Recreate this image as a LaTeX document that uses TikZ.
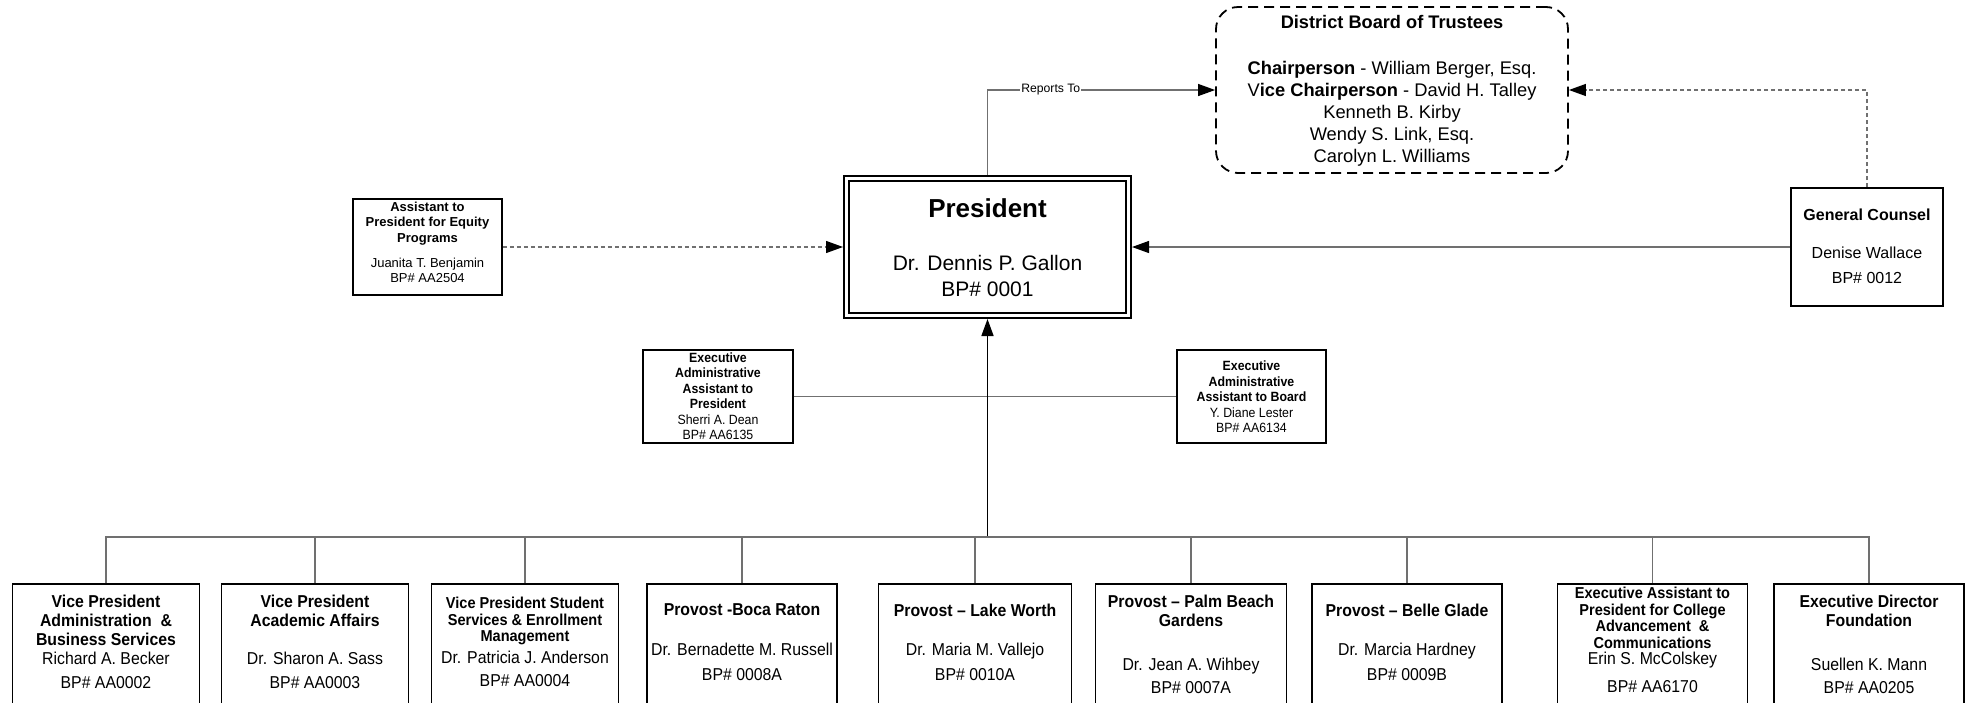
\documentclass[tikz,border=0pt]{standalone}
\usepackage{fontspec}
\setmainfont{Liberation Sans}
\newfontfamily\nf[FakeStretch=0.92]{Liberation Sans}
\usetikzlibrary{arrows.meta}
\definecolor{wirecol}{RGB}{112,112,112}
\newcommand{\myfont}[2]{\fontsize{#1pt}{#2pt}\selectfont}
\begin{document}
\begin{tikzpicture}[x=1pt,y=-1pt,
  box/.style={draw=black,line width=1.8pt,inner sep=0pt,fill=white},
  txt/.style={align=center,inner sep=0pt,text=black},
  wire/.style={draw=wirecol,line width=1.2pt},
  arr/.style={-{Triangle[length=17pt,width=12pt,color=black]}},
  bbox/.style={box,minimum height=176pt},
  btitle/.style={txt,font={\nf\bfseries\myfont{17.2}{19}}},
  bstitle/.style={txt,font={\nf\bfseries\myfont{15.8}{16.5}}},
  bbody/.style={txt,font={\nf\myfont{17.2}{#1}}},
]
\useasboundingbox (0,0) rectangle (1973,702);
\fill[white] (0,0) rectangle (1973,702);
\clip (0,0) rectangle (1973,702);

% boxes
\node[box,dash pattern=on 10pt off 6pt,rounded corners=22pt,minimum width=352pt,minimum height=166pt] (board) at (1392,90) {};
\node[box,double,double distance=3pt,line width=2pt,outer sep=3.5pt,minimum width=282pt,minimum height=137pt] (pres) at (987.5,247) {};
\node[box,minimum width=149pt,minimum height=96pt] (eq) at (427.5,247) {};
\node[box,minimum width=152pt,minimum height=118pt] (gc) at (1867,247) {};
\node[box,minimum width=150pt,minimum height=93pt] (eap) at (718,396.5) {};
\node[box,minimum width=149pt,minimum height=93pt] (eab) at (1251.5,396.5) {};

\node[bbox,minimum width=187pt] (b1) at (106,672) {};
\node[bbox,minimum width=187pt] (b2) at (315,672) {};
\node[bbox,minimum width=187pt] (b3) at (525,672) {};
\node[bbox,minimum width=190pt] (b4) at (742,672) {};
\node[bbox,minimum width=193pt] (b5) at (975,672) {};
\node[bbox,minimum width=191pt] (b6) at (1191,672) {};
\node[bbox,minimum width=190pt] (b7) at (1407,672) {};
\node[bbox,minimum width=190pt] (b8) at (1652.5,672) {};
\node[bbox,minimum width=190pt] (b9) at (1869,672) {};

% connectors
\coordinate (bus) at (987.5,537);
\draw[wire] (eap.east) -- (eab.west);
\draw[line width=1.6pt,draw=black,arr] (bus) -- (pres.south);
\draw[wire] (b1.north) |- (bus) -| (b9.north);
\foreach \b in {b2,b3,b4,b5,b6,b7,b8} {\draw[wire] (\b.north) -- (\b.north |- bus);}
\draw[wire,arr] (pres.north) |- (board.west) node[pos=0.639,fill=white,inner sep=1pt,font={\myfont{12.2}{14}}] (rep) {Reports To};
\draw[wire,dash pattern=on 4pt off 3pt,arr] (gc.north) |- (board.east);
\draw[wire,arr] (gc.west) -- (pres.east);
\draw[wire,dash pattern=on 4pt off 3pt,arr] (eq.east) -- (pres.west);

% texts
\node[txt,font={\bfseries\myfont{18.2}{22}}] (boardT) at (1392,22) {District Board of Trustees};
\node[txt,font={\myfont{18.3}{22}}] (boardB) at (1392,114) {\textbf{Chairperson} - William Berger, Esq.\\ V\textbf{ice Chairperson} - David H. Talley\\ Kenneth B. Kirby\\ Wendy S. Link, Esq.\\ Carolyn L. Williams};
\node[txt,font={\bfseries\myfont{26}{30}}] (presT) at (987.5,208) {President};
\node[txt,font={\myfont{21}{26}}] (presB) at (987.5,275.5) {Dr. Dennis P. Gallon\\BP\# 0001};
\node[txt,font={\bfseries\myfont{16}{19}}] (gcT) at (1867,215) {General Counsel};
\node[txt,font={\myfont{16}{25}}] (gcB) at (1867,265) {Denise Wallace\\BP\# 0012};
\node[txt,font={\bfseries\myfont{13}{15.5}}] (eqT) at (427.5,223.5) {Assistant to\\President for Equity\\Programs};
\node[txt,font={\myfont{13}{14.5}}] (eqB) at (427.5,270.5) {Juanita T. Benjamin\\BP\# AA2504};
\node[txt,font={\nf\myfont{13.4}{15.5}}] (eapT) at (718,396) {\textbf{Executive}\\\textbf{Administrative}\\\textbf{Assistant to}\\\textbf{President}\\Sherri A. Dean\\BP\# AA6135};
\node[txt,font={\nf\myfont{13.4}{15.6}}] (eabT) at (1251.5,397) {\textbf{Executive}\\\textbf{Administrative}\\\textbf{Assistant to Board}\\Y. Diane Lester\\BP\# AA6134};

\node[btitle] (t1) at (106,620.5) {Vice President\\Administration\ \ \&\\Business Services};
\node[bbody=24] (n1) at (106,670) {Richard A. Becker\\BP\# AA0002};
\node[btitle] (t2) at (315,611) {Vice President\\Academic Affairs};
\node[bbody=24] (n2) at (315,670) {Dr. Sharon A. Sass\\BP\# AA0003};
\node[bstitle] (t3) at (525,621) {Vice President Student\\Services \& Enrollment\\Management};
\node[bbody=23] (n3) at (525,669) {Dr. Patricia J. Anderson\\BP\# AA0004};
\node[btitle] (t4) at (742,610) {Provost -Boca Raton};
\node[bbody=25] (n4) at (742,662) {Dr. Bernadette M. Russell\\BP\# 0008A};
\node[btitle] (t5) at (975,610) {Provost – Lake Worth};
\node[bbody=25] (n5) at (975,662) {Dr. Maria M. Vallejo\\BP\# 0010A};
\node[btitle] (t6) at (1191,611) {Provost – Palm Beach\\Gardens};
\node[bbody=23] (n6) at (1191,676) {Dr. Jean A. Wihbey\\BP\# 0007A};
\node[btitle] (t7) at (1407,610) {Provost – Belle Glade};
\node[bbody=25] (n7) at (1407,662) {Dr. Marcia Hardney\\BP\# 0009B};
\node[bstitle] (t8) at (1652.5,618) {Executive Assistant to\\President for College\\Advancement\ \ \&\\Communications};
\node[bbody=28] (n8) at (1652.5,672) {Erin S. McColskey\\BP\# AA6170};
\node[btitle] (t9) at (1869,611) {Executive Director\\Foundation};
\node[bbody=23] (n9) at (1869,676) {Suellen K. Mann\\BP\# AA0205};
\end{tikzpicture}
\end{document}
